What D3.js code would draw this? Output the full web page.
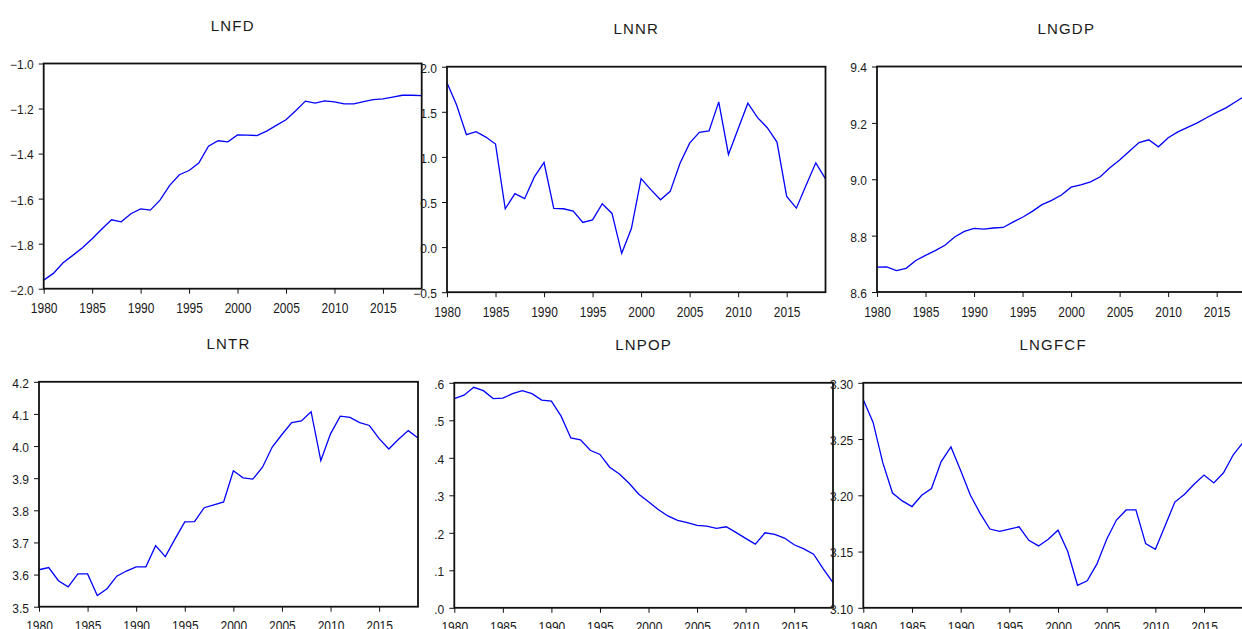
<!DOCTYPE html>
<html>
<head>
<meta charset="UTF-8" />
<title>Series graphs</title>
<script src="https://d3js.org/d3.v7.min.js"></script>
<style>
  body { margin: 0; background: #fff; }
  svg { display: block; font-family: "Liberation Sans", Arial, sans-serif; }
</style>
</head>
<body>
<div id="main"></div>
<script>
const years = [1980, 1981, 1982, 1983, 1984, 1985, 1986, 1987, 1988, 1989,
  1990, 1991, 1992, 1993, 1994, 1995, 1996, 1997, 1998, 1999,
  2000, 2001, 2002, 2003, 2004, 2005, 2006, 2007, 2008, 2009,
  2010, 2011, 2012, 2013, 2014, 2015, 2016, 2017, 2018, 2019];
const yearTicks = [1980, 1985, 1990, 1995, 2000, 2005, 2010, 2015];

const lnfd = [-1.962, -1.932, -1.885, -1.852, -1.818, -1.778, -1.735, -1.694, -1.703, -1.667,
  -1.646, -1.651, -1.607, -1.541, -1.494, -1.475, -1.442, -1.367, -1.343, -1.348,
  -1.317, -1.318, -1.320, -1.300, -1.275, -1.250, -1.210, -1.167, -1.176, -1.166,
  -1.170, -1.179, -1.179, -1.169, -1.160, -1.157, -1.149, -1.141, -1.141, -1.143];
const lnnr = [1.823, 1.573, 1.246, 1.279, 1.220, 1.142, 0.425, 0.592, 0.537, 0.778,
  0.938, 0.429, 0.425, 0.399, 0.273, 0.302, 0.481, 0.373, -0.069, 0.206,
  0.759, 0.637, 0.525, 0.618, 0.927, 1.153, 1.272, 1.287, 1.610, 1.027,
  1.313, 1.595, 1.435, 1.324, 1.164, 0.562, 0.432, 0.685, 0.934, 0.756];
const lngdp = [8.688, 8.689, 8.676, 8.684, 8.712, 8.730, 8.747, 8.766, 8.795, 8.815,
  8.826, 8.823, 8.827, 8.829, 8.848, 8.865, 8.886, 8.910, 8.925, 8.944,
  8.972, 8.980, 8.991, 9.009, 9.041, 9.068, 9.099, 9.130, 9.140, 9.115,
  9.147, 9.168, 9.184, 9.200, 9.219, 9.237, 9.254, 9.276, 9.297, 9.315];
const lntr = [3.615, 3.622, 3.581, 3.562, 3.602, 3.602, 3.535, 3.556, 3.595, 3.611,
  3.624, 3.624, 3.690, 3.656, 3.711, 3.764, 3.765, 3.808, 3.817, 3.826,
  3.923, 3.901, 3.897, 3.934, 3.997, 4.036, 4.073, 4.078, 4.107, 3.955,
  4.038, 4.093, 4.089, 4.073, 4.064, 4.023, 3.991, 4.021, 4.048, 4.025];
const lnpop = [0.558, 0.567, 0.588, 0.579, 0.558, 0.559, 0.571, 0.579, 0.571, 0.554,
  0.551, 0.511, 0.453, 0.448, 0.420, 0.409, 0.375, 0.357, 0.332, 0.303,
  0.283, 0.262, 0.245, 0.233, 0.227, 0.220, 0.218, 0.212, 0.216, 0.201,
  0.185, 0.170, 0.200, 0.196, 0.186, 0.168, 0.157, 0.143, 0.104, 0.067];
const lngfcf = [3.285, 3.265, 3.229, 3.202, 3.195, 3.190, 3.200, 3.206, 3.230, 3.243,
  3.222, 3.200, 3.184, 3.170, 3.168, 3.170, 3.172, 3.160, 3.155, 3.161,
  3.169, 3.150, 3.120, 3.124, 3.139, 3.161, 3.178, 3.187, 3.187, 3.157,
  3.152, 3.173, 3.194, 3.201, 3.210, 3.218, 3.211, 3.220, 3.236, 3.247];

const lnfdTicks = [-2.0, -1.8, -1.6, -1.4, -1.2, -1.0];
const lnnrTicks = [-0.5, 0.0, 0.5, 1.0, 1.5, 2.0];
const lngdpTicks = [8.6, 8.8, 9.0, 9.2, 9.4];
const lntrTicks = [3.5, 3.6, 3.7, 3.8, 3.9, 4.0, 4.1, 4.2];
const lnpopTicks = [0.0, 0.1, 0.2, 0.3, 0.4, 0.5, 0.6];
const lngfcfTicks = [3.10, 3.15, 3.20, 3.25, 3.30];

const width = 1242;
const height = 629;

const f1 = d3.format('.1f');
const f2 = d3.format('.2f');
const noLead = d => f1(d).replace(/^0/, '');

// plot boxes: [left, top, right, bottom]
const panels = [
  { title: 'LNFD', values: lnfd, ticks: lnfdTicks, fmt: f1, box: [43.7, 63.5, 421.7, 288.7] },
  { title: 'LNNR', values: lnnr, ticks: lnnrTicks, fmt: f1, box: [447, 66.7, 825.5, 292.2] },
  { title: 'LNGDP', values: lngdp, ticks: lngdpTicks, fmt: f1, box: [877, 66.5, 1255.5, 292] },
  { title: 'LNTR', values: lntr, ticks: lntrTicks, fmt: f1, box: [39, 381.8, 418, 606.7] },
  { title: 'LNPOP', values: lnpop, ticks: lnpopTicks, fmt: noLead, box: [454.3, 382.8, 833, 607.8] },
  { title: 'LNGFCF', values: lngfcf, ticks: lngfcfTicks, fmt: f2, box: [863.3, 382.8, 1243, 607.8] }
];

const svg = d3.select('div#main')
  .append('svg')
  .attr('width', width)
  .attr('height', height);

svg.append('rect').attr('width', width).attr('height', height).attr('fill', '#fff');

panels.forEach(p => {
  const [l, t, r, b] = p.box;
  const x = d3.scaleLinear().domain([1980, 2019]).range([l, r]);
  const y = d3.scaleLinear()
    .domain([p.ticks[0], p.ticks[p.ticks.length - 1]])
    .range([b, t]);

  const g = svg.append('g');

  g.append('text')
    .attr('x', (l + r) / 2)
    .attr('y', t - 33)
    .attr('text-anchor', 'middle')
    .attr('font-size', 15)
    .attr('letter-spacing', 1.2)
    .attr('fill', '#1a1a1a')
    .text(p.title);

  const line = d3.line()
    .x((d, i) => x(years[i]))
    .y(d => y(d));

  g.append('path')
    .datum(p.values)
    .attr('d', line)
    .attr('fill', 'none')
    .attr('stroke', '#0000ff')
    .attr('stroke-width', 1.3);

  g.append('rect')
    .attr('x', l)
    .attr('y', t)
    .attr('width', r - l)
    .attr('height', b - t)
    .attr('fill', 'none')
    .attr('stroke', '#111')
    .attr('stroke-width', 1.8);

  const yAxis = g.append('g')
    .attr('transform', `translate(${l},0)`)
    .call(d3.axisLeft(y).tickValues(p.ticks).tickFormat(p.fmt).tickSize(5).tickPadding(5));
  yAxis.select('.domain').remove();
  yAxis.selectAll('text')
    .attr('font-size', 12)
    .attr('fill', '#1a1a1a')
    .attr('font-family', '"Liberation Sans", Arial, sans-serif')
    .attr('dy', '0.45em');
  yAxis.selectAll('line').attr('stroke', '#111');

  const xAxis = g.append('g')
    .attr('transform', `translate(0,${b})`)
    .call(d3.axisBottom(x).tickValues(yearTicks).tickFormat(d3.format('d')).tickSize(5));
  xAxis.select('.domain').remove();
  xAxis.selectAll('text')
    .attr('y', 0)
    .attr('dy', null)
    .attr('transform', 'translate(0,24.5) scale(1,1.25)')
    .attr('font-size', 12)
    .attr('fill', '#1a1a1a')
    .attr('font-family', '"Liberation Sans", Arial, sans-serif');
  xAxis.selectAll('line').attr('stroke', '#111');
});
</script>
</body>
</html>
